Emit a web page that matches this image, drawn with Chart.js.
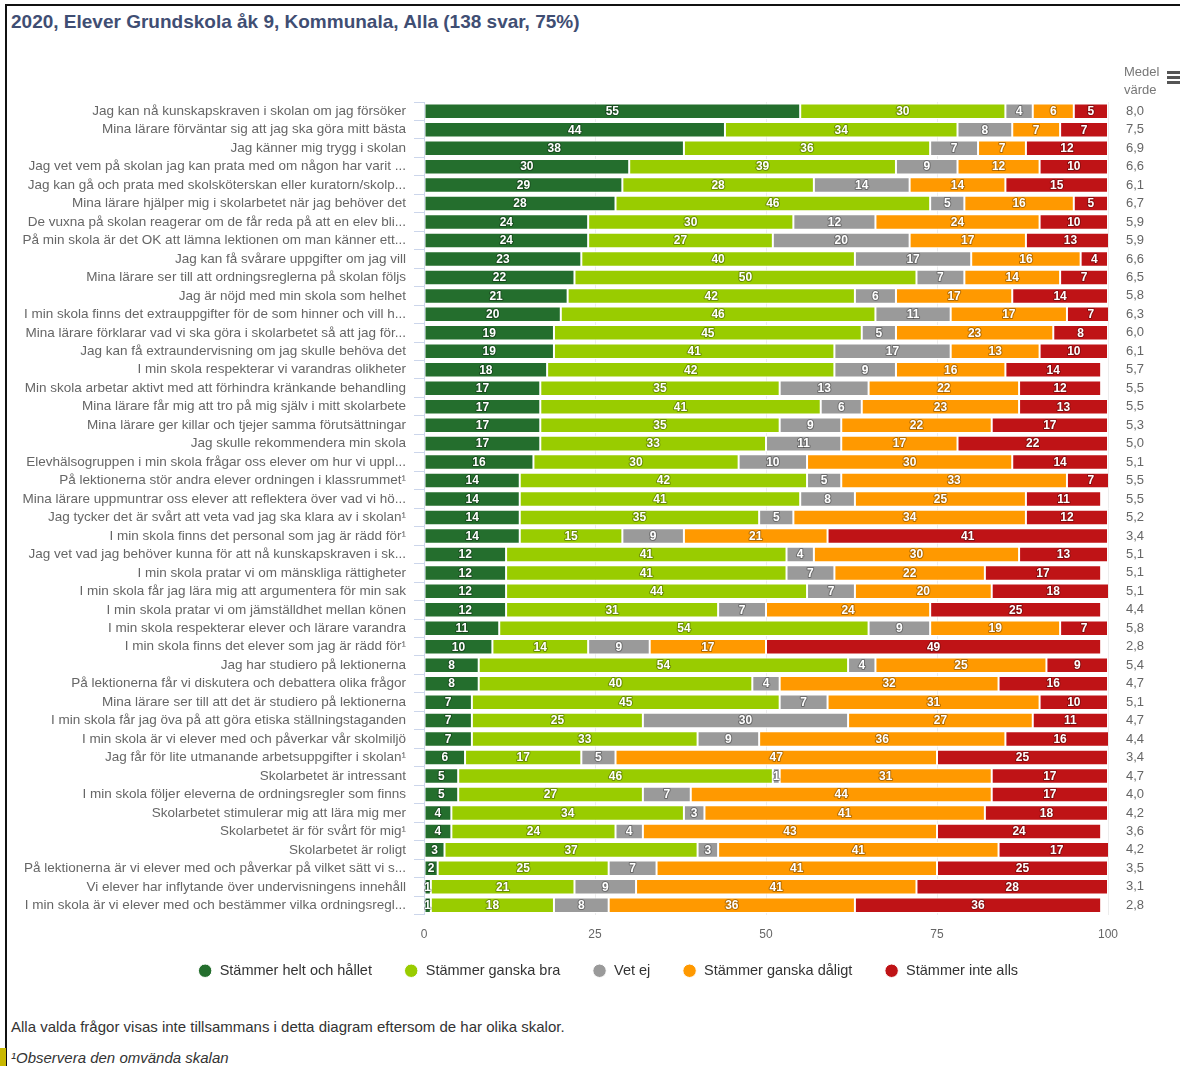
<!DOCTYPE html>
<html lang="sv">
<head>
<meta charset="utf-8">
<title>Elever Grundskola åk 9 – Kommunala</title>
<script src="https://cdn.jsdelivr.net/npm/chart.js@4.4.1/dist/chart.umd.min.js"></script>
<style>
  html, body { margin: 0; padding: 0; background: #fff; }
  body { width: 1180px; height: 1066px; position: relative; overflow: hidden;
         font-family: "Liberation Sans", Arial, sans-serif; }
  #frame { position: absolute; left: 5px; top: 4px; width: 1200px; height: 1100px;
           border-left: 2px solid #111; border-top: 2px solid #111; }
  #title { position: absolute; left: 11px; top: 11px; font-size: 19px; font-weight: bold;
           color: #3f4e73; white-space: nowrap; }
  #chartBox { position: absolute; left: 0; top: 0; width: 1180px; height: 1000px; }
  #meanHead { position: absolute; left: 1124px; top: 63px; font-size: 13px; line-height: 18px; color: #777; }
  .bar { position: absolute; left: 1167px; width: 14px; height: 2.5px; background: #555; }
  #note1 { position: absolute; left: 11px; top: 1018px; font-size: 15px; color: #333; white-space: nowrap; }
  #note2 { position: absolute; left: 11px; top: 1049px; font-size: 15px; color: #333; font-style: italic; white-space: nowrap; }
  #tab { position: absolute; left: 0; top: 1048px; width: 6px; height: 18px; background: #c9b800; }
</style>
</head>
<body>
<div id="frame"></div>
<div id="title">2020, Elever Grundskola åk 9, Kommunala, Alla (138 svar, 75%)</div>
<div id="chartBox"><canvas id="chart"></canvas></div>
<div id="meanHead">Medel<br>värde</div>
<div class="bar" style="top:71px"></div>
<div class="bar" style="top:76px"></div>
<div class="bar" style="top:81px"></div>
<div id="note1">Alla valda frågor visas inte tillsammans i detta diagram eftersom de har olika skalor.</div>
<div id="note2">¹Observera den omvända skalan</div>
<div id="tab"></div>

<script>
// Survey statements (one bar each), top to bottom
const categories = [
  'Jag kan nå kunskapskraven i skolan om jag försöker',
  'Mina lärare förväntar sig att jag ska göra mitt bästa',
  'Jag känner mig trygg i skolan',
  'Jag vet vem på skolan jag kan prata med om någon har varit ...',
  'Jag kan gå och prata med skolsköterskan eller kuratorn/skolp...',
  'Mina lärare hjälper mig i skolarbetet när jag behöver det',
  'De vuxna på skolan reagerar om de får reda på att en elev bli...',
  'På min skola är det OK att lämna lektionen om man känner ett...',
  'Jag kan få svårare uppgifter om jag vill',
  'Mina lärare ser till att ordningsreglerna på skolan följs',
  'Jag är nöjd med min skola som helhet',
  'I min skola finns det extrauppgifter för de som hinner och vill h...',
  'Mina lärare förklarar vad vi ska göra i skolarbetet så att jag för...',
  'Jag kan få extraundervisning om jag skulle behöva det',
  'I min skola respekterar vi varandras olikheter',
  'Min skola arbetar aktivt med att förhindra kränkande behandling',
  'Mina lärare får mig att tro på mig själv i mitt skolarbete',
  'Mina lärare ger killar och tjejer samma förutsättningar',
  'Jag skulle rekommendera min skola',
  'Elevhälsogruppen i min skola frågar oss elever om hur vi uppl...',
  'På lektionerna stör andra elever ordningen i klassrummet¹',
  'Mina lärare uppmuntrar oss elever att reflektera över vad vi hö...',
  'Jag tycker det är svårt att veta vad jag ska klara av i skolan¹',
  'I min skola finns det personal som jag är rädd för¹',
  'Jag vet vad jag behöver kunna för att nå kunskapskraven i sk...',
  'I min skola pratar vi om mänskliga rättigheter',
  'I min skola får jag lära mig att argumentera för min sak',
  'I min skola pratar vi om jämställdhet mellan könen',
  'I min skola respekterar elever och lärare varandra',
  'I min skola finns det elever som jag är rädd för¹',
  'Jag har studiero på lektionerna',
  'På lektionerna får vi diskutera och debattera olika frågor',
  'Mina lärare ser till att det är studiero på lektionerna',
  'I min skola får jag öva på att göra etiska ställningstaganden',
  'I min skola är vi elever med och påverkar vår skolmiljö',
  'Jag får för lite utmanande arbetsuppgifter i skolan¹',
  'Skolarbetet är intressant',
  'I min skola följer eleverna de ordningsregler som finns',
  'Skolarbetet stimulerar mig att lära mig mer',
  'Skolarbetet är för svårt för mig¹',
  'Skolarbetet är roligt',
  'På lektionerna är vi elever med och påverkar på vilket sätt vi s...',
  'Vi elever har inflytande över undervisningens innehåll',
  'I min skola är vi elever med och bestämmer vilka ordningsregl...'
];

// Share of answers (%) per response option
const heltOchHallet = [55,44,38,30,29,28,24,24,23,22,21,20,19,19,18,17,17,17,17,16,14,14,14,14,12,12,12,12,11,10,8,8,7,7,7,6,5,5,4,4,3,2,1,1];
const ganskaBra     = [30,34,36,39,28,46,30,27,40,50,42,46,45,41,42,35,41,35,33,30,42,41,35,15,41,41,44,31,54,14,54,40,45,25,33,17,46,27,34,24,37,25,21,18];
const vetEj         = [4,8,7,9,14,5,12,20,17,7,6,11,5,17,9,13,6,9,11,10,5,8,5,9,4,7,7,7,9,9,4,4,7,30,9,5,1,7,3,4,3,7,9,8];
const ganskaDaligt  = [6,7,7,12,14,16,24,17,16,14,17,17,23,13,16,22,23,22,17,30,33,25,34,21,30,22,20,24,19,17,25,32,31,27,36,47,31,44,41,43,41,41,41,36];
const inteAlls      = [5,7,12,10,15,5,10,13,4,7,14,7,8,10,14,12,13,17,22,14,7,11,12,41,13,17,18,25,7,49,9,16,10,11,16,25,17,17,18,24,17,25,28,36];

// Mean value per statement (right-hand column)
const meanValues = ['8,0','7,5','6,9','6,6','6,1','6,7','5,9','5,9','6,6','6,5','5,8','6,3','6,0','6,1','5,7','5,5','5,5','5,3','5,0','5,1','5,5','5,5','5,2','3,4','5,1','5,1','5,1','4,4','5,8','2,8','5,4','4,7','5,1','4,7','4,4','3,4','4,7','4,0','4,2','3,6','4,2','3,5','3,1','2,8'];

const seriesNames = ['Stämmer helt och hållet', 'Stämmer ganska bra', 'Vet ej', 'Stämmer ganska dåligt', 'Stämmer inte alls'];
const seriesColors = ['#246e2d', '#99cc00', '#9a9a9a', '#ff9900', '#bf1316'];
const seriesValues = [heltOchHallet, ganskaBra, vetEj, ganskaDaligt, inteAlls];

const xTicks = [0, 25, 50, 75, 100];

const FONT = '"Liberation Sans", Arial, sans-serif';

// White value label centred in every segment
const segmentLabels = {
  id: 'segmentLabels',
  afterDatasetsDraw(chart) {
    const ctx = chart.ctx;
    ctx.save();
    ctx.font = 'bold 12px ' + FONT;
    ctx.textAlign = 'center';
    ctx.textBaseline = 'middle';
    ctx.lineJoin = 'round';
    chart.data.datasets.forEach((ds, di) => {
      const meta = chart.getDatasetMeta(di);
      if (meta.hidden) return;
      meta.data.forEach((bar, i) => {
        const v = ds.data[i];
        if (!v) return;
        const cx = (bar.x + bar.base) / 2;
        const t = String(v);
        ctx.lineWidth = 2;
        ctx.strokeStyle = 'rgba(0,0,0,0.3)';
        ctx.strokeText(t, cx, bar.y + 0.5);
        ctx.fillStyle = '#ffffff';
        ctx.fillText(t, cx, bar.y + 0.5);
      });
    });
    ctx.restore();
  }
};

// Centre the legend under the plot area rather than the whole canvas
const legendOffset = {
  id: 'legendOffset',
  afterLayout(chart) {
    const lg = chart.legend;
    if (!lg) return;
    lg.left += 18; lg.right += 18;
    lg.top -= 7; lg.bottom -= 7;
  }
};

new Chart(document.getElementById('chart'), {
  type: 'bar',
  data: {
    labels: categories,
    datasets: seriesValues.map((vals, k) => ({
      label: seriesNames[k],
      data: vals,
      backgroundColor: seriesColors[k],
      borderColor: '#ffffff',
      borderWidth: 1,
      borderSkipped: false,
      barPercentage: 0.84,
      categoryPercentage: 1.0
    }))
  },
  options: {
    indexAxis: 'y',
    responsive: true,
    maintainAspectRatio: false,
    devicePixelRatio: 1,
    animation: false,
    layout: { padding: { top: 102, bottom: 5, left: 0, right: 0 } },
    scales: {
      x: {
        stacked: true,
        min: 0,
        max: 100,
        afterBuildTicks: s => { s.ticks = xTicks.map(v => ({ value: v })); },
        afterFit: s => { s.height = 24; },
        grid: { color: '#ececec', drawTicks: false },
        border: { display: false },
        ticks: { padding: 13, color: '#666', font: { family: FONT, size: 12 } }
      },
      y: {
        stacked: true,
        afterFit: s => { s.width = 424; },
        grid: { drawOnChartArea: false, drawTicks: true, tickLength: 10, color: '#ccd6eb', offset: true },
        border: { display: true, color: '#ccd6eb' },
        ticks: { padding: 8, color: '#666', font: { family: FONT, size: 13.5 }, autoSkip: false }
      },
      yMean: {
        type: 'category',
        position: 'right',
        labels: meanValues,
        offset: true,
        afterFit: s => { s.width = 72; },
        grid: { display: false, drawTicks: false },
        border: { display: false },
        ticks: { padding: 18, color: '#666', font: { family: FONT, size: 13 }, autoSkip: false }
      }
    },
    plugins: {
      legend: {
        position: 'bottom',
        labels: {
          usePointStyle: true,
          pointStyle: 'circle',
          boxWidth: 14.5,
          boxHeight: 9.5,
          padding: 32,
          color: '#333',
          font: { family: FONT, size: 14.5 }
        }
      },
      tooltip: { enabled: false }
    }
  },
  plugins: [segmentLabels, legendOffset]
});
</script>
</body>
</html>
